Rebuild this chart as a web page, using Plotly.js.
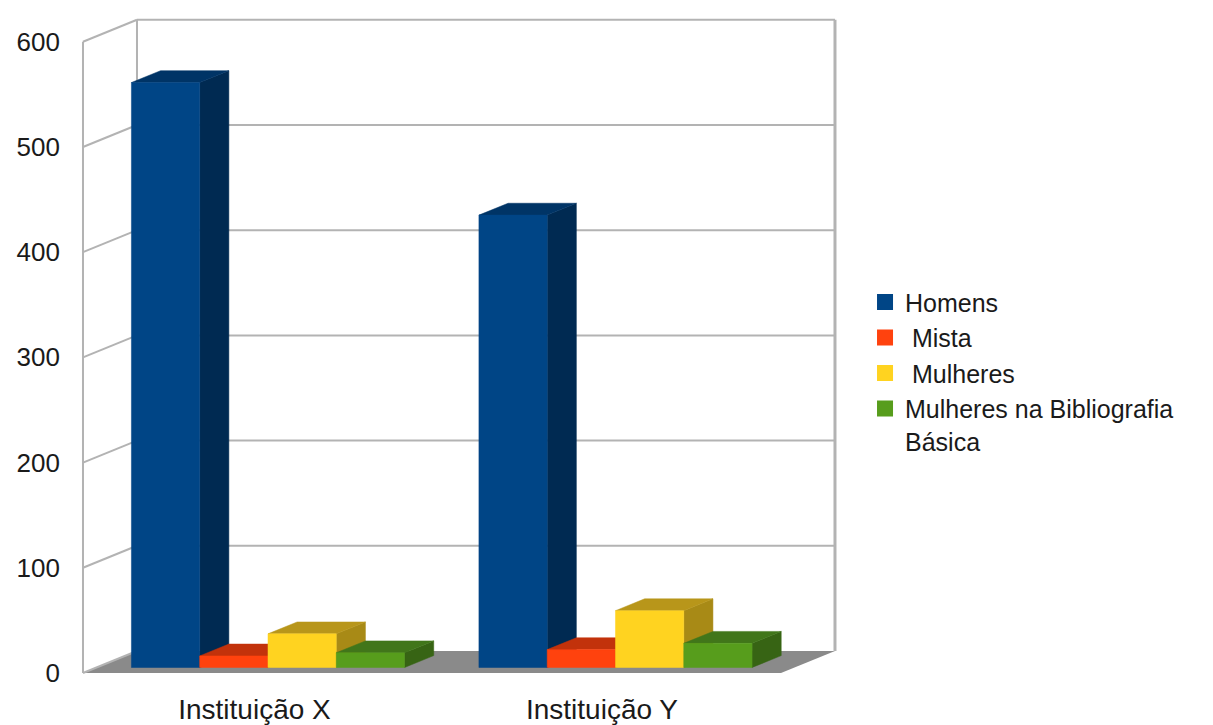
<!DOCTYPE html>
<html>
<head>
<meta charset="utf-8">
<script src="https://cdn.plot.ly/plotly-3.0.1.min.js"></script>
<style>
  html, body { margin: 0; padding: 0; background: #ffffff; }
  #chart { width: 1213px; height: 725px; }
</style>
</head>
<body>
<div id="chart"></div>
<script>
// ---------------- DATA ----------------
const categories = ['Instituição X', 'Instituição Y'];
const seriesNames = ['Homens', ' Mista', ' Mulheres', 'Mulheres na Bibliografia<br>Básica'];
const homens = [556, 430];
const mista = [11, 17];
const mulheres = [32, 54];
const bibliografia = [14, 23];
const yTickValues = [0, 100, 200, 300, 400, 500, 600];

// ---------------- STYLE ----------------
const frontColors = ['#004586', '#ff420e', '#ffd320', '#579d1c'];
const topColors   = ['#003466', '#c2320b', '#b8961a', '#41761a'];
const sideColors  = ['#002a52', '#a82b09', '#a88a16', '#376414'];
const fontFamily = 'Liberation Sans, Arial, sans-serif';

// pseudo-3D geometry (axis units)
const floorDepth = { dx: 0.1554, dy: 20.91 };   // full depth of the floor
const barFrontFrac = 0.25;                      // where bar fronts sit in depth
const barDepthFrac = 0.54;                      // bar depth as fraction of floor depth
const barWidth = 0.1965;
const groupOffset = -0.393;
const wallLeft = -0.4935, wallRight = 1.5151;
const xRange = [-0.5165, 1.6993];
const yRange = [-6.654, 630.2];

const seriesValues = [homens, mista, mulheres, bibliografia];

function facePolys(values, j) {
  const front = { x: [], y: [] }, top = { x: [], y: [] }, side = { x: [], y: [] };
  const ddx = barDepthFrac * floorDepth.dx, ddy = barDepthFrac * floorDepth.dy;
  values.forEach((v, i) => {
    const x0 = i + groupOffset + j * barWidth + barFrontFrac * floorDepth.dx;
    const x1 = x0 + barWidth;
    const b = barFrontFrac * floorDepth.dy;
    const t = b + v;
    side.x.push(x1, x1 + ddx, x1 + ddx, x1, x1, null);
    side.y.push(b, b + ddy, t + ddy, t, b, null);
    top.x.push(x0, x1, x1 + ddx, x0 + ddx, x0, null);
    top.y.push(t, t, t + ddy, t + ddy, t, null);
    front.x.push(x0, x1, x1, x0, x0, null);
    front.y.push(b, b, t, t, b, null);
  });
  return { front, top, side };
}

const traces = [];
seriesValues.forEach((vals, j) => {
  const p = facePolys(vals, j);
  [['side', sideColors[j]], ['top', topColors[j]], ['front', frontColors[j]]].forEach(([k, c]) => {
    traces.push({
      type: 'scatter', mode: 'lines', x: p[k].x, y: p[k].y,
      fill: 'toself', fillcolor: c, line: { width: 0.5, color: c },
      showlegend: false, hoverinfo: 'skip', legendgroup: 's' + j
    });
  });
});
seriesNames.forEach((n, j) => {
  traces.push({
    type: 'scatter', mode: 'markers', x: [null], y: [null], name: n,
    marker: { symbol: 'square', size: 16, color: frontColors[j] },
    showlegend: true, legendgroup: 's' + j
  });
});

// walls, grid, floor as shapes built from tick values
const shapes = [];
const gridColor = '#b3b3b3';
const dX = floorDepth.dx, dY = floorDepth.dy;
shapes.push({
  type: 'path', xref: 'x', yref: 'y', layer: 'below',
  path: `M${wallLeft},0 L${wallLeft + dX},${dY} L${wallRight + dX},${dY} L${wallRight},0 Z`,
  fillcolor: '#8a8a8a', line: { width: 0 }
});
const yMaxTick = yTickValues[yTickValues.length - 1];
yTickValues.forEach(v => {
  if (v > 0) {
    shapes.push({ type: 'line', xref: 'x', yref: 'y', layer: 'below',
      x0: wallLeft + dX, x1: wallRight + dX, y0: v + dY, y1: v + dY,
      line: { color: gridColor, width: 2 } });
  }
  shapes.push({ type: 'line', xref: 'x', yref: 'y', layer: 'below',
    x0: wallLeft, x1: wallLeft + dX, y0: v, y1: v + dY,
    line: { color: gridColor, width: 2 } });
});
[wallLeft, wallLeft + dX, wallRight + dX].forEach((x, idx) => {
  const base = idx === 0 ? 0 : dY;
  shapes.push({ type: 'line', xref: 'x', yref: 'y', layer: 'below',
    x0: x, x1: x, y0: base, y1: yMaxTick + base,
    line: { color: gridColor, width: idx === 2 ? 3 : 2 } });
});

const layout = {
  width: 1213, height: 725,
  margin: { l: 75, r: 368, t: 10, b: 45 },
  paper_bgcolor: '#ffffff', plot_bgcolor: '#ffffff',
  font: { family: fontFamily, color: '#1a1a1a' },
  showlegend: true,
  legend: {
    x: 1.026, xanchor: 'left', y: 0.46, yanchor: 'middle', valign: 'top',
    font: { size: 25, family: fontFamily, color: '#1a1a1a' },
    bgcolor: 'rgba(0,0,0,0)', tracegroupgap: 0, traceorder: 'normal'
  },
  xaxis: {
    range: xRange, tickmode: 'array', tickvals: categories.map((c, i) => i), ticktext: categories,
    showgrid: false, zeroline: false, showline: false, ticks: '',
    tickfont: { size: 28, family: fontFamily, color: '#1a1a1a' }, ticklabelstandoff: 10,
    fixedrange: true
  },
  yaxis: {
    range: yRange, tickmode: 'array', tickvals: yTickValues,
    showgrid: false, zeroline: false, showline: false, ticks: '',
    tickfont: { size: 26, family: fontFamily, color: '#1a1a1a' }, ticklabelstandoff: 14,
    fixedrange: true
  },
  shapes: shapes
};

Plotly.newPlot('chart', traces, layout, { staticPlot: true, displayModeBar: false });
</script>
</body>
</html>
